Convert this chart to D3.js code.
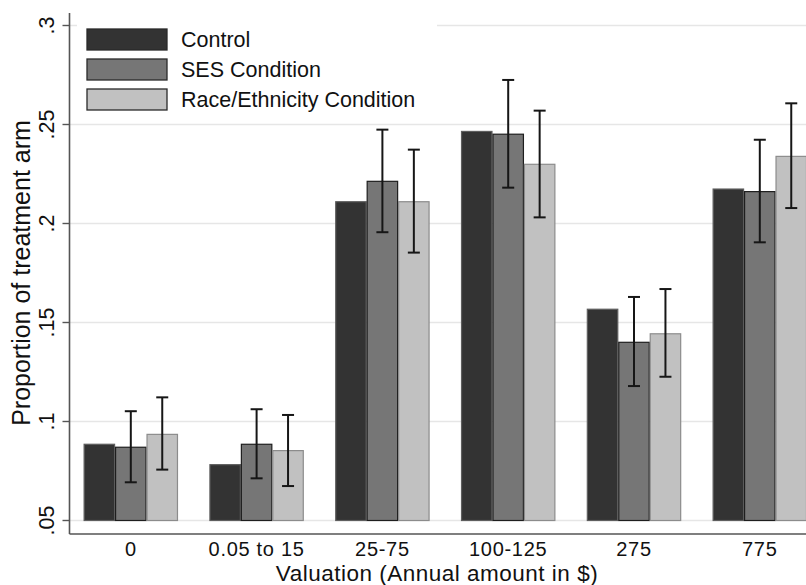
<!DOCTYPE html>
<html>
<head>
<meta charset="utf-8">
<script src="https://cdn.jsdelivr.net/npm/d3@7"></script>
<style>
  html, body { margin: 0; padding: 0; background: #fff; }
  svg { display: block; font-family: "Liberation Sans", Arial, Helvetica, sans-serif; }
</style>
</head>
<body>
<svg id="chart" width="806" height="585"></svg>
<script>
// ---- data ----
const categories = ["0", "0.05 to 15", "25-75", "100-125", "275", "775"];
const seriesNames = ["Control", "SES Condition", "Race/Ethnicity Condition"];
const controlValues = [0.0885, 0.0782, 0.2110, 0.2465, 0.1567, 0.2174];
const sesValues     = [0.0870, 0.0885, 0.2213, 0.2451, 0.1400, 0.2161];
const raceValues    = [0.0935, 0.0853, 0.2110, 0.2299, 0.1443, 0.2339];
const sesLow   = [0.0693, 0.0713, 0.1956, 0.2181, 0.1179, 0.1905];
const sesHigh  = [0.1052, 0.1062, 0.2474, 0.2725, 0.1629, 0.2423];
const raceLow  = [0.0757, 0.0674, 0.1853, 0.2031, 0.1226, 0.2078];
const raceHigh = [0.1122, 0.1033, 0.2373, 0.2570, 0.1669, 0.2607];
const yTickValues = [0.05, 0.1, 0.15, 0.2, 0.25, 0.3];
const yTickLabels = [".05", ".1", ".15", ".2", ".25", ".3"];
const xTitle = "Valuation (Annual amount in $)";
const yTitle = "Proportion of treatment arm";

// ---- styles ----
const fills   = ["#333333", "#767676", "#c1c1c1"];
const strokes = ["#5e5e5e", "#1e1e1e", "#8c8c8c"];

const svg = d3.select("#chart");
const axisX = 69.5, axisBottom = 534, axisTop = 13, rightEdge = 806;

const y = d3.scaleLinear().domain([0.05, 0.3]).range([520.5, 25.5]);
const x0 = d3.scaleBand().domain(categories)
  .range([67.9, 67.9 + 6 * 125.8]).paddingInner(0.25).paddingOuter(0.125);
const x1 = d3.scaleBand().domain(seriesNames).range([0, x0.bandwidth()]);

// gridlines
svg.append("g").selectAll("line").data(yTickValues).join("line")
  .attr("x1", axisX).attr("x2", rightEdge)
  .attr("y1", d => y(d)).attr("y2", d => y(d))
  .attr("stroke", "#e6e6e6").attr("stroke-width", 1.6);

// rows
const rows = categories.map((c, i) => ({
  cat: c,
  vals: [
    { s: seriesNames[0], v: controlValues[i], lo: null, hi: null, k: 0 },
    { s: seriesNames[1], v: sesValues[i], lo: sesLow[i], hi: sesHigh[i], k: 1 },
    { s: seriesNames[2], v: raceValues[i], lo: raceLow[i], hi: raceHigh[i], k: 2 }
  ]
}));

const groups = svg.append("g").selectAll("g").data(rows).join("g")
  .attr("transform", d => `translate(${x0(d.cat)},0)`);

groups.selectAll("rect").data(d => d.vals).join("rect")
  .attr("x", d => x1(d.s) + 0.5)
  .attr("width", x1.bandwidth() - 1)
  .attr("y", d => y(d.v))
  .attr("height", d => y(0.05) - y(d.v))
  .attr("fill", d => fills[d.k])
  .attr("stroke", d => strokes[d.k])
  .attr("stroke-width", 1.2);

// error bars
const eb = groups.selectAll("g.eb").data(d => d.vals.filter(v => v.lo !== null)).join("g")
  .attr("class", "eb")
  .attr("transform", d => `translate(${x1(d.s) + x1.bandwidth() / 2},0)`);
eb.append("line").attr("x1", 0).attr("x2", 0)
  .attr("y1", d => y(d.lo)).attr("y2", d => y(d.hi))
  .attr("stroke", "#161616").attr("stroke-width", 2);
eb.append("line").attr("x1", -6).attr("x2", 6)
  .attr("y1", d => y(d.lo)).attr("y2", d => y(d.lo))
  .attr("stroke", "#161616").attr("stroke-width", 2);
eb.append("line").attr("x1", -6).attr("x2", 6)
  .attr("y1", d => y(d.hi)).attr("y2", d => y(d.hi))
  .attr("stroke", "#161616").attr("stroke-width", 2);

// axes
svg.append("line").attr("x1", axisX).attr("x2", axisX)
  .attr("y1", axisTop).attr("y2", axisBottom)
  .attr("stroke", "#555").attr("stroke-width", 1.6);
svg.append("line").attr("x1", axisX).attr("x2", rightEdge)
  .attr("y1", axisBottom).attr("y2", axisBottom)
  .attr("stroke", "#555").attr("stroke-width", 1.6);

// y ticks
const yt = svg.append("g").selectAll("g").data(yTickValues).join("g");
yt.append("line").attr("x1", axisX - 7).attr("x2", axisX)
  .attr("y1", d => y(d)).attr("y2", d => y(d))
  .attr("stroke", "#555").attr("stroke-width", 1.4);
yt.append("text")
  .attr("transform", d => `translate(53.5,${y(d)}) rotate(-90)`)
  .attr("text-anchor", "middle")
  .attr("font-size", 21.5).attr("fill", "#111")
  .text((d, i) => yTickLabels[i]);

// x tick labels
svg.append("g").selectAll("text").data(categories).join("text")
  .attr("x", d => x0(d) + x0.bandwidth() / 2)
  .attr("y", 555.5)
  .attr("text-anchor", "middle")
  .attr("font-size", 20).attr("letter-spacing", 0.7).attr("fill", "#111")
  .text(d => d);

// axis titles
svg.append("text").attr("x", 437).attr("y", 580.5)
  .attr("text-anchor", "middle").attr("font-size", 22.5)
  .attr("letter-spacing", 0.5).attr("fill", "#111")
  .text(xTitle);
svg.append("text")
  .attr("transform", `translate(30,273) rotate(-90)`)
  .attr("text-anchor", "middle").attr("font-size", 25).attr("fill", "#111")
  .text(yTitle);

// legend
const leg = svg.append("g");
leg.append("rect").attr("x", 77).attr("y", 16).attr("width", 360).attr("height", 103)
  .attr("fill", "#fff");
const li = leg.selectAll("g").data(seriesNames).join("g")
  .attr("transform", (d, i) => `translate(87,${29 + i * 30})`);
li.append("rect").attr("x", 0).attr("y", 0).attr("width", 80).attr("height", 21)
  .attr("fill", (d, i) => fills[i]).attr("stroke", "#2a2a2a").attr("stroke-width", 1.3);
li.append("text").attr("x", 94).attr("y", 10.5).attr("dy", "0.36em")
  .attr("font-size", 21.5).attr("fill", "#111")
  .text(d => d);
</script>
</body>
</html>
